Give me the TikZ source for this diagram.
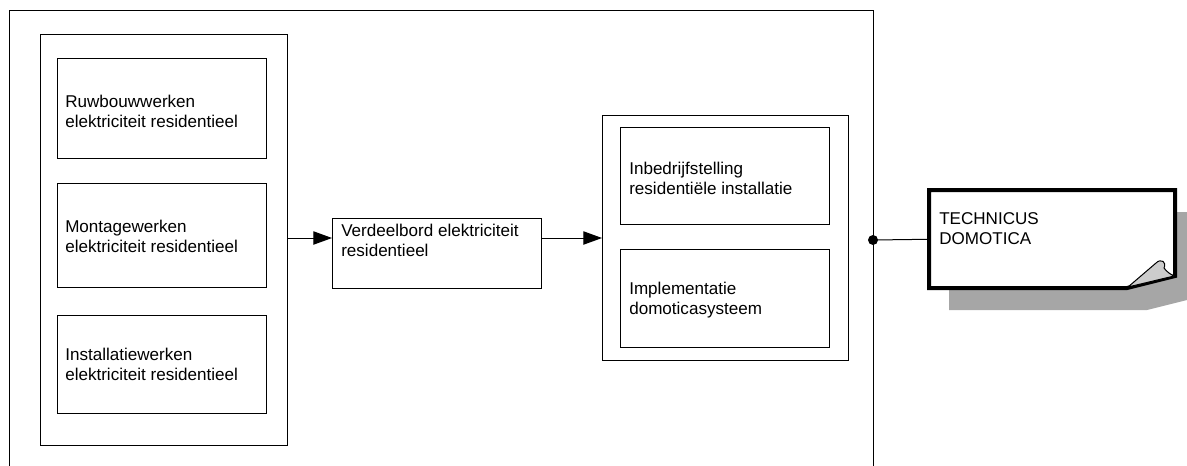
\documentclass[tikz,border=0pt]{standalone}
\usepackage{fontspec}
\setmainfont{Liberation Sans}
\usetikzlibrary{arrows.meta}
\definecolor{shadowgray}{RGB}{166,166,166}
\definecolor{foldgray}{RGB}{204,204,204}
\begin{document}
\begin{tikzpicture}[x=0.75pt,y=-0.75pt,
  box/.style={draw, line width=0.75pt, inner sep=0pt, anchor=north west},
  txt/.style={anchor=west, align=left, inner sep=0pt, font=\fontsize{12.8}{15}\selectfont},
  arr/.style={line width=0.75pt, -{Triangle[length=14pt,width=10pt]}},
  thin/.style={line width=0.75pt}]
\useasboundingbox (0,0) rectangle (1187,465);
\clip (0,0) rectangle (1187,465);
% outer frame (open at bottom)
\draw[thin] (9,475) -- (9,10) -- (873,10) -- (873,475);
% left container
\node[box, minimum width=185.25pt, minimum height=308.25pt] (lc) at (40,34) {};
\node[box, minimum width=156.75pt, minimum height=75pt] (b1) at (57,58) {};
\node[box, minimum width=156.75pt, minimum height=78pt] (b2) at (57,183) {};
\node[box, minimum width=156.75pt, minimum height=73.5pt] (b3) at (57,315) {};
\node[txt] (t1) at (65,111) {Ruwbouwwerken\\elektriciteit residentieel};
\node[txt] (t2) at (65,236) {Montagewerken\\elektriciteit residentieel};
\node[txt] (t3) at (65,364) {Installatiewerken\\elektriciteit residentieel};
% middle
\node[box, minimum width=156.75pt, minimum height=52.5pt] (mid) at (332,218) {};
\node[txt] (tm) at (341,240) {Verdeelbord elektriciteit\\residentieel};
% right container
\node[box, minimum width=184.5pt, minimum height=183.75pt] (rc) at (602,115) {};
\node[box, minimum width=156.75pt, minimum height=72.75pt] (bA) at (620,127) {};
\node[box, minimum width=156.75pt, minimum height=73.5pt] (bB) at (620,249) {};
\node[txt] (tA) at (629,178) {Inbedrijfstelling\\residentiële installatie};
\node[txt] (tB) at (629,300) {Implementatie\\domoticasysteem};
% arrows
\draw[arr] (lc.east |- 0,238) -- (mid.west |- 0,238);
\draw[arr] (mid.east |- 0,238) -- (rc.west |- 0,238);
% note with shadow
\fill[shadowgray] (949,212) -- (1195,212) -- (1195,298) -- (1147,310) -- (949,310) -- cycle;
\node[inner sep=0pt, minimum width=184.5pt, minimum height=73.5pt, anchor=north west] (note) at (929,190) {};
\draw[line width=3pt, fill=white, line join=miter] (929,190) -- (1175,190) -- (1175,276) -- (1127,288) -- (929,288) -- cycle;
\draw[thin, fill=foldgray, line join=round] (1128,287) -- (1156,263) .. controls (1161,258) and (1167,262) .. (1164,268) .. controls (1167,272) and (1170,274) .. (1174,276) -- cycle;
\node[txt] (tn) at (939,229) {TECHNICUS\\DOMOTICA};
% junction dot and connector
\node[circle, fill=black, inner sep=0pt, minimum size=7.5pt] (dot) at (873,240) {};
\draw[thin] (dot.center) -- (note.west);
\end{tikzpicture}
\end{document}
